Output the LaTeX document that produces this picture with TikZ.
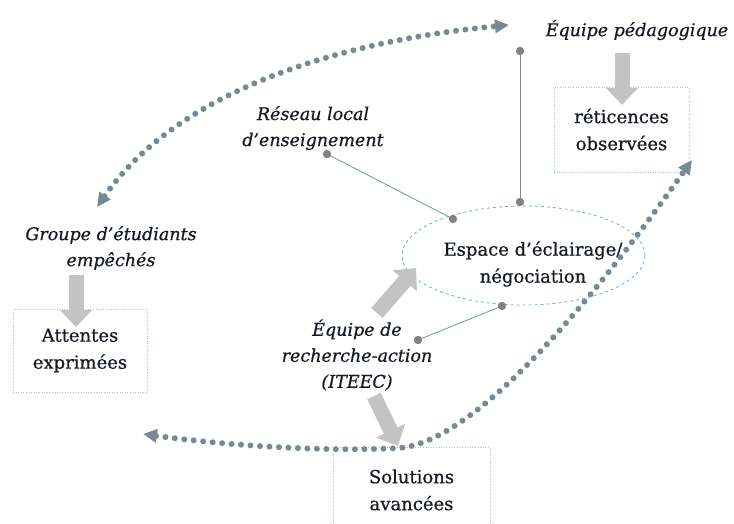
\documentclass[tikz,border=0pt]{standalone}
\usepackage{fontspec}
\setmainfont{DejaVu Serif}[FakeBold=0.6]
\usetikzlibrary{arrows.meta,shapes.geometric}
\definecolor{txt}{RGB}{20,25,35}
\definecolor{dotc}{RGB}{118,138,150}
\definecolor{blk}{RGB}{195,195,195}
\definecolor{boxc}{RGB}{150,200,225}
\definecolor{ellc}{RGB}{110,170,205}
\definecolor{linec}{RGB}{110,150,170}
\definecolor{pinc}{RGB}{130,130,130}
\begin{document}
\begin{tikzpicture}[x=1pt,y=-1pt,
  lbl/.style={align=center,font=\fontsize{17.5}{26}\selectfont\itshape,text=txt,inner sep=0pt},
  boxlbl/.style={align=center,font=\fontsize{18}{27}\selectfont,text=txt,inner sep=0pt,
    draw=boxc,dotted,line width=0.6pt},
  dotline/.style={draw=dotc,line width=6pt,line cap=round,dash pattern=on 0pt off 9.5pt},
  blockarrow/.style={draw=blk,line width=15pt,-{Triangle[length=17pt,width=31pt]}},
  pin/.style={fill=pinc},
  thinline/.style={draw=linec,line width=0.8pt},
  vline/.style={draw=pinc,line width=1pt}]
\useasboundingbox (0,0) rectangle (734,524);

% ellipse
\node[draw=ellc,dashed,line width=0.8pt,ellipse,minimum width=243pt,minimum height=99pt,inner sep=0pt] (esp) at (523.5,255.5) {};
\node[align=center,font=\fontsize{18}{27}\selectfont,text=txt,inner sep=0pt] (esptxt) at (533,264) {Espace d’éclairage/\\négociation};

% boxes
\node[boxlbl,minimum width=135pt,minimum height=85pt] (ret) at (621.5,129.5) {réticences\\observées};
\node[boxlbl,minimum width=134pt,minimum height=83pt] (att) at (80,350.5) {Attentes\\exprimées};
\node[boxlbl,minimum width=157pt,minimum height=86pt] (sol) at (411.5,490) {Solutions\\avancées};

% labels
\node[lbl] (ep) at (637,30) {Équipe pédagogique};
\node[lbl] (res) at (313,128) {Réseau local\\d’enseignement};
\node[lbl] (grp) at (111,248) {Groupe d’étudiants\\empêchés};
\node[lbl] (ite) at (357,355) {Équipe de\\recherche-action\\(ITEEC)};

% block arrows
\coordinate (a1s) at (622,53);  \coordinate (a1e) at (622,105);
\coordinate (a2s) at (76,275);  \coordinate (a2e) at (76,327);
\coordinate (a3s) at (377,313); \coordinate (a3e) at (416,268);
\coordinate (a4s) at (374,396); \coordinate (a4e) at (398,446);
\draw[blockarrow] (a1s) -- (a1e);
\draw[blockarrow] (a2s) -- (a2e);
\draw[blockarrow] (a3s) -- (a3e);
\draw[blockarrow] (a4s) -- (a4e);

% pins and thin connectors
\coordinate (rd) at (327,154);
\coordinate (ed1) at (453,219);
\coordinate (td) at (520,51);
\coordinate (ed2) at (520,202);
\coordinate (ed3) at (502,306);
\coordinate (id) at (418,340);
\draw[thinline] (rd) -- (ed1);
\draw[vline] (td) -- (ed2);
\draw[thinline] (ed3) -- (id);
\foreach \p in {rd,ed1,td,ed2,ed3,id} \fill[pin] (\p) circle (4.2pt);

% dotted curved arrows
\coordinate (c1a) at (97,207);
\coordinate (c1b) at (509,25);
\draw[dotline,{Triangle[length=14pt,width=13pt]}-{Triangle[length=14pt,width=13pt]}]
  (c1a) .. controls (175,95) and (330,42) .. (c1b);
\coordinate (c2a) at (143,434);
\coordinate (c2m) at (400,448);
\coordinate (c2b) at (692,160);
\draw[dotline,{Triangle[length=14pt,width=13pt]}-{Triangle[length=14pt,width=13pt]}]
  (c2a) .. controls (230,446) and (330,452) .. (c2m)
  .. controls (480,440) and (600,290) .. (c2b);
\end{tikzpicture}
\end{document}
